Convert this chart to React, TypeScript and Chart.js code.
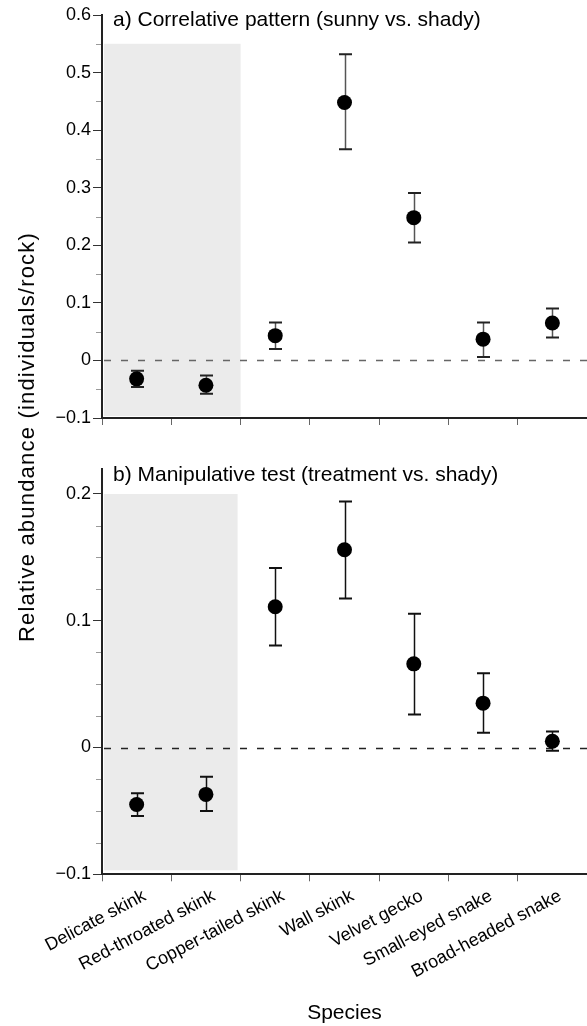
import React, { useEffect, useRef } from 'react';
import { Chart, registerables } from 'chart.js';

Chart.register(...registerables);

const FONT = '"Liberation Sans", Arial, Helvetica, sans-serif';
Chart.defaults.font.family = FONT;

// ---------- data ----------
const species = [
  'Delicate skink',
  'Red-throated skink',
  'Copper-tailed skink',
  'Wall skink',
  'Velvet gecko',
  'Small-eyed snake',
  'Broad-headed snake',
];

// a) correlative pattern (sunny vs. shady)
const correlativeMean = [-0.032, -0.043, 0.043, 0.448, 0.248, 0.037, 0.065];
const correlativeUpper = [-0.018, -0.026, 0.066, 0.532, 0.291, 0.066, 0.09];
const correlativeLower = [-0.046, -0.058, 0.02, 0.367, 0.205, 0.006, 0.04];

// b) manipulative test (treatment vs. shady)
const manipulativeMean = [-0.045, -0.037, 0.111, 0.156, 0.066, 0.035, 0.005];
const manipulativeUpper = [-0.036, -0.023, 0.1415, 0.194, 0.1055, 0.0586, 0.0126];
const manipulativeLower = [-0.054, -0.05, 0.0805, 0.1176, 0.026, 0.0116, -0.0026];

const correlativeTicks = [-0.1, 0, 0.1, 0.2, 0.3, 0.4, 0.5, 0.6];
const manipulativeTicks = [-0.1, 0, 0.1, 0.2];
const correlativeMinorStep = 0.05;
const manipulativeMinorStep = 0.025;

const shadedSpecies = ['Delicate skink', 'Red-throated skink'];
const correlativeShadeTop = 0.55;
const manipulativeShadeTop = 0.2;

const titleA = 'a) Correlative pattern (sunny vs. shady)';
const titleB = 'b) Manipulative test (treatment vs. shady)';
const yTitle = 'Relative abundance (individuals/rock)';
const xTitle = 'Species';

// ---------- helpers ----------
const fmtTick = (v: number) => {
  if (Math.abs(v) < 1e-9) return '0';
  const s = Math.abs(v).toFixed(1);
  return v < 0 ? '\u2212' + s : s;
};

type PanelCfg = {
  mean: number[];
  upper: number[];
  lower: number[];
  ticks: number[];
  minorStep: number;
  shadeTop: number;
  title: string;
  min: number;
  max: number;
  padTop: number;
  xHeight: number;
  showLabels: boolean;
  barColor: string;
  capColor: string;
  zeroColor: string;
  bandRightInset: number;
  bandBottomInset: number;
  titleY: number;
};

function buildChart(canvas: HTMLCanvasElement, c: PanelCfg) {
  const plugin = {
    id: 'panelDecor',
    beforeDatasetsDraw(chart: any) {
      const { ctx, chartArea, scales } = chart;
      const x = scales.x;
      const y = scales.y;
      ctx.save();
      // shaded band
      const lastIdx = shadedSpecies.length - 1;
      const right =
        (x.getPixelForValue(lastIdx) + x.getPixelForValue(lastIdx + 1)) / 2 - c.bandRightInset;
      const top = y.getPixelForValue(c.shadeTop);
      const bottom = chartArea.bottom - c.bandBottomInset;
      ctx.fillStyle = '#ebebeb';
      ctx.fillRect(chartArea.left + 2, top, right - chartArea.left - 2, bottom - top);
      // zero line
      const y0 = Math.round(y.getPixelForValue(0)) + 0.5;
      ctx.setLineDash([7, 10]);
      ctx.strokeStyle = c.zeroColor;
      ctx.lineWidth = 1.5;
      ctx.beginPath();
      ctx.moveTo(chartArea.left + 2, y0);
      ctx.lineTo(chartArea.right, y0);
      ctx.stroke();
      ctx.setLineDash([]);
      // error bars
      for (let i = 0; i < species.length; i++) {
        const xp = Math.round(x.getPixelForValue(i)) + 0.5;
        const yu = y.getPixelForValue(c.upper[i]);
        const yl = y.getPixelForValue(c.lower[i]);
        ctx.strokeStyle = c.barColor;
        ctx.lineWidth = 1.5;
        ctx.beginPath();
        ctx.moveTo(xp, yu);
        ctx.lineTo(xp, yl);
        ctx.stroke();
        ctx.strokeStyle = c.capColor;
        ctx.lineWidth = 2;
        ctx.beginPath();
        ctx.moveTo(xp - 6.5, yu);
        ctx.lineTo(xp + 6.5, yu);
        ctx.moveTo(xp - 6.5, yl);
        ctx.lineTo(xp + 6.5, yl);
        ctx.stroke();
      }
      ctx.restore();
    },
    afterDraw(chart: any) {
      const { ctx, chartArea, scales } = chart;
      const y = scales.y;
      ctx.save();
      // minor ticks
      ctx.strokeStyle = '#9a9a9a';
      ctx.lineWidth = 1;
      const n = Math.round((c.max - c.min) / c.minorStep);
      for (let k = 0; k <= n; k++) {
        const v = c.min + k * c.minorStep;
        if (c.ticks.some((t) => Math.abs(t - v) < 1e-9)) continue;
        if (v > c.max + 1e-9) continue;
        const yp = Math.round(y.getPixelForValue(v)) + 0.5;
        ctx.beginPath();
        ctx.moveTo(chartArea.left - 6, yp);
        ctx.lineTo(chartArea.left - 1, yp);
        ctx.stroke();
      }
      // panel title
      ctx.fillStyle = '#000';
      ctx.font = '21px ' + FONT;
      ctx.textAlign = 'left';
      ctx.textBaseline = 'middle';
      ctx.fillText(c.title, chartArea.left + 11, c.titleY);
      ctx.restore();
    },
  };

  return new Chart(canvas, {
    type: 'line',
    data: {
      labels: species,
      datasets: [
        {
          data: c.mean,
          showLine: false,
          pointRadius: 7.5,
          pointHoverRadius: 7.5,
          pointBackgroundColor: '#000',
          pointBorderColor: '#000',
          pointBorderWidth: 0,
          clip: false,
        },
      ],
    },
    options: {
      responsive: false,
      maintainAspectRatio: false,
      animation: false,
      events: [],
      layout: { autoPadding: false, padding: { top: c.padTop, left: 0, right: 0, bottom: 0 } },
      plugins: { legend: { display: false }, tooltip: { enabled: false }, title: { display: false } },
      scales: {
        x: {
          type: 'category',
          offset: true,
          grid: {
            offset: true,
            drawOnChartArea: false,
            drawTicks: true,
            tickLength: 7,
            tickColor: '#666',
            tickWidth: 1,
          },
          border: { display: true, color: '#222', width: 2 },
          ticks: {
            display: c.showLabels,
            autoSkip: false,
            minRotation: 28,
            maxRotation: 28,
            labelOffset: 8,
            padding: 4,
            color: '#000',
            font: { size: 18, family: FONT },
          },
          title: {
            display: c.showLabels,
            text: xTitle,
            color: '#000',
            font: { size: 21, family: FONT },
            padding: { top: 0, bottom: 0 },
          },
          afterFit: (s: any) => {
            s.height = c.xHeight;
          },
        },
        y: {
          type: 'linear',
          min: c.min,
          max: c.max,
          afterBuildTicks: (s: any) => {
            s.ticks = c.ticks.map((v) => ({ value: v }));
          },
          grid: {
            drawOnChartArea: false,
            drawTicks: true,
            tickLength: 9,
            tickColor: '#333',
            tickWidth: 1,
          },
          border: { display: true, color: '#222', width: 2 },
          ticks: {
            padding: 2,
            color: '#000',
            font: { size: 18, family: FONT },
            callback: (v: any) => fmtTick(Number(v)),
          },
          afterFit: (s: any) => {
            s.width = 102;
          },
        },
      },
    },
    plugins: [plugin],
  } as any);
}

export default function App() {
  const topRef = useRef<HTMLCanvasElement>(null);
  const botRef = useRef<HTMLCanvasElement>(null);

  useEffect(() => {
    const a = buildChart(topRef.current!, {
      mean: correlativeMean,
      upper: correlativeUpper,
      lower: correlativeLower,
      ticks: correlativeTicks,
      minorStep: correlativeMinorStep,
      shadeTop: correlativeShadeTop,
      title: titleA,
      min: -0.1,
      max: 0.6,
      padTop: 15,
      xHeight: 22,
      showLabels: false,
      barColor: '#555',
      capColor: '#222',
      zeroColor: '#666',
      bandRightInset: 0,
      bandBottomInset: 2,
      titleY: 20,
    });
    const b = buildChart(botRef.current!, {
      mean: manipulativeMean,
      upper: manipulativeUpper,
      lower: manipulativeLower,
      ticks: manipulativeTicks,
      minorStep: manipulativeMinorStep,
      shadeTop: manipulativeShadeTop,
      title: titleB,
      min: -0.1,
      max: 0.22,
      padTop: 28.6,
      xHeight: 151.7,
      showLabels: true,
      barColor: '#111',
      capColor: '#111',
      zeroColor: '#222',
      bandRightInset: 3,
      bandBottomInset: 4,
      titleY: 35,
    });
    return () => {
      a.destroy();
      b.destroy();
    };
  }, []);

  return (
    <div
      style={{
        position: 'absolute',
        left: 0,
        top: 0,
        width: 587,
        height: 1026,
        background: '#fff',
        overflow: 'hidden',
      }}
    >
      <canvas
        ref={topRef}
        width={587}
        height={440}
        style={{ position: 'absolute', left: 0, top: 0, width: 587, height: 440 }}
      />
      <canvas
        ref={botRef}
        width={587}
        height={586}
        style={{ position: 'absolute', left: 0, top: 440, width: 587, height: 586 }}
      />
      <div
        style={{
          position: 'absolute',
          left: 27,
          top: 437,
          transform: 'translate(-50%, -50%) rotate(-90deg)',
          whiteSpace: 'nowrap',
          fontFamily: FONT,
          fontSize: 22,
          letterSpacing: 1.2,
          color: '#000',
          lineHeight: 1,
        }}
      >
        {yTitle}
      </div>
    </div>
  );
}
